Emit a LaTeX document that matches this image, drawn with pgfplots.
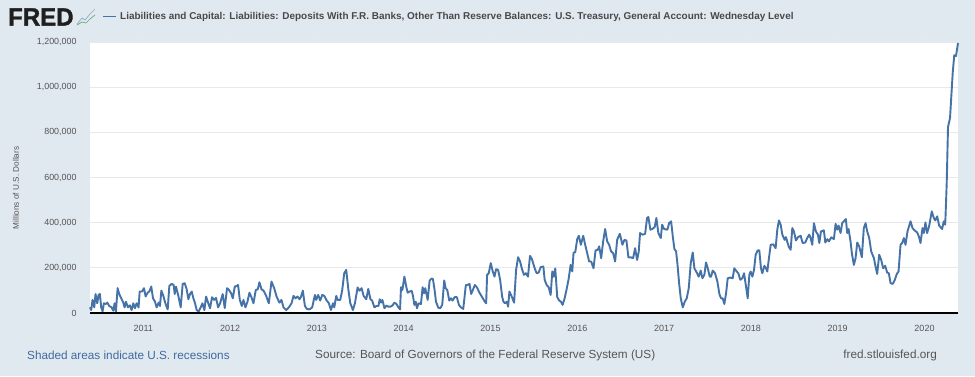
\documentclass[border=0pt]{standalone}
\usepackage{fontspec}
\setmainfont{Liberation Sans}
\usepackage{pgfplots}
\usepackage{pgfplotstable}
\pgfplotsset{compat=1.18}
\definecolor{fredbg}{HTML}{E1E9F0}
\definecolor{fredline}{HTML}{4572A7}
\definecolor{fredgrid}{HTML}{E8E8E8}
\definecolor{fredtxt}{HTML}{555555}
\definecolor{fredlink}{HTML}{3E6A9E}
\pgfplotstableread{
x y
2010.385 25
2010.400 13
2010.415 58
2010.435 25
2010.450 84
2010.469 43
2010.485 80
2010.500 84
2010.515 25
2010.531 7
2010.546 43
2010.569 40
2010.585 46
2010.608 31
2010.635 25
2010.654 10
2010.669 43
2010.685 6
2010.704 110
2010.723 84
2010.746 65
2010.769 46
2010.785 25
2010.800 50
2010.823 25
2010.846 34
2010.865 13
2010.885 43
2010.904 21
2010.923 43
2010.946 25
2010.958 95
2010.985 95
2011.008 110
2011.027 73
2011.050 90
2011.069 95
2011.092 117
2011.112 65
2011.135 50
2011.154 25
2011.177 46
2011.192 31
2011.208 99
2011.231 76
2011.254 43
2011.281 16
2011.300 120
2011.327 129
2011.350 124
2011.362 84
2011.377 117
2011.404 76
2011.431 25
2011.454 129
2011.477 132
2011.500 105
2011.519 61
2011.538 84
2011.558 95
2011.577 65
2011.596 43
2011.615 13
2011.638 7
2011.662 25
2011.681 43
2011.704 13
2011.723 73
2011.746 46
2011.769 21
2011.792 70
2011.815 58
2011.838 67
2011.862 25
2011.885 43
2011.915 84
2011.938 22
2011.965 110
2011.988 102
2012.012 87
2012.031 65
2012.054 117
2012.077 120
2012.092 124
2012.112 58
2012.135 31
2012.154 58
2012.177 25
2012.200 50
2012.223 90
2012.246 70
2012.269 43
2012.296 102
2012.319 105
2012.338 136
2012.362 105
2012.385 99
2012.415 76
2012.446 43
2012.477 139
2012.508 110
2012.538 70
2012.569 46
2012.592 58
2012.615 25
2012.646 13
2012.677 25
2012.708 43
2012.731 76
2012.754 65
2012.777 73
2012.800 61
2012.815 70
2012.838 99
2012.862 31
2012.885 18
2012.915 16
2012.946 25
2012.977 80
2012.992 58
2013.015 80
2013.038 55
2013.062 80
2013.085 76
2013.108 58
2013.138 43
2013.162 13
2013.185 43
2013.200 25
2013.223 76
2013.238 58
2013.269 58
2013.292 102
2013.315 176
2013.338 191
2013.362 105
2013.385 43
2013.415 13
2013.438 43
2013.469 113
2013.492 99
2013.515 110
2013.538 76
2013.569 61
2013.592 107
2013.617 61
2013.636 55
2013.663 25
2013.686 31
2013.709 31
2013.724 61
2013.740 46
2013.755 58
2013.778 21
2013.801 33
2013.824 28
2013.847 28
2013.870 33
2013.893 46
2013.916 40
2013.939 25
2013.958 16
2013.969 114
2013.985 102
2014.008 161
2014.031 114
2014.046 90
2014.069 95
2014.092 98
2014.107 76
2014.123 36
2014.138 50
2014.153 21
2014.172 43
2014.199 40
2014.218 114
2014.234 87
2014.249 110
2014.276 58
2014.299 144
2014.322 153
2014.337 150
2014.356 102
2014.372 50
2014.398 24
2014.421 21
2014.444 36
2014.467 144
2014.483 110
2014.502 102
2014.525 55
2014.544 65
2014.563 55
2014.586 70
2014.613 70
2014.636 36
2014.659 25
2014.686 18
2014.716 124
2014.735 124
2014.758 129
2014.777 84
2014.797 102
2014.820 124
2014.843 114
2014.873 90
2014.904 70
2014.935 50
2014.950 43
2014.961 169
2014.980 176
2015.003 221
2015.026 184
2015.046 161
2015.065 194
2015.088 191
2015.111 147
2015.134 73
2015.149 50
2015.168 43
2015.187 50
2015.203 28
2015.218 95
2015.241 76
2015.272 46
2015.295 191
2015.318 247
2015.341 228
2015.363 194
2015.386 169
2015.409 176
2015.432 161
2015.455 253
2015.478 238
2015.509 198
2015.532 176
2015.555 179
2015.578 203
2015.609 206
2015.624 147
2015.647 124
2015.670 114
2015.693 80
2015.712 184
2015.727 161
2015.746 197
2015.769 70
2015.792 55
2015.812 50
2015.831 36
2015.854 65
2015.877 105
2015.900 150
2015.923 213
2015.942 184
2015.957 268
2015.976 268
2015.999 327
2016.018 342
2016.041 302
2016.068 342
2016.091 302
2016.114 265
2016.137 228
2016.160 228
2016.187 198
2016.210 277
2016.237 280
2016.252 295
2016.275 243
2016.298 317
2016.321 372
2016.344 317
2016.367 302
2016.390 272
2016.413 265
2016.436 228
2016.459 324
2016.490 351
2016.520 302
2016.543 324
2016.566 321
2016.589 246
2016.612 247
2016.643 243
2016.666 287
2016.689 235
2016.708 272
2016.723 354
2016.750 347
2016.781 350
2016.804 421
2016.819 425
2016.842 369
2016.865 372
2016.892 381
2016.911 421
2016.934 354
2016.962 332
2016.977 391
2017.000 372
2017.038 369
2017.058 398
2017.081 406
2017.100 339
2017.119 283
2017.138 273
2017.153 221
2017.173 132
2017.192 65
2017.215 25
2017.238 50
2017.261 65
2017.284 110
2017.307 221
2017.330 268
2017.349 198
2017.376 179
2017.399 161
2017.422 188
2017.441 154
2017.464 169
2017.483 224
2017.503 198
2017.526 161
2017.541 161
2017.560 188
2017.587 176
2017.614 139
2017.637 84
2017.656 65
2017.675 65
2017.694 40
2017.714 87
2017.733 154
2017.760 157
2017.790 154
2017.809 198
2017.836 184
2017.855 176
2017.878 147
2017.901 154
2017.921 176
2017.944 117
2017.963 65
2017.982 169
2017.997 184
2018.017 161
2018.036 191
2018.055 258
2018.078 277
2018.097 277
2018.116 198
2018.132 176
2018.155 209
2018.174 198
2018.189 184
2018.208 243
2018.228 302
2018.258 304
2018.285 287
2018.304 369
2018.323 410
2018.343 391
2018.362 347
2018.389 324
2018.404 336
2018.423 310
2018.438 292
2018.458 280
2018.477 376
2018.496 361
2018.519 321
2018.542 336
2018.573 342
2018.596 310
2018.626 312
2018.649 332
2018.672 347
2018.688 332
2018.707 302
2018.726 398
2018.749 361
2018.772 347
2018.788 310
2018.807 361
2018.841 366
2018.857 312
2018.880 327
2018.899 317
2018.926 335
2018.956 327
2018.976 395
2018.995 369
2019.010 387
2019.033 354
2019.052 398
2019.094 416
2019.110 354
2019.125 372
2019.148 317
2019.163 265
2019.186 213
2019.206 243
2019.225 312
2019.248 295
2019.278 247
2019.301 376
2019.321 398
2019.340 361
2019.363 332
2019.386 273
2019.417 243
2019.436 206
2019.455 173
2019.478 258
2019.501 235
2019.524 198
2019.547 209
2019.570 179
2019.589 176
2019.609 132
2019.635 129
2019.658 147
2019.681 173
2019.701 184
2019.724 302
2019.743 310
2019.762 332
2019.781 302
2019.804 361
2019.839 406
2019.862 376
2019.885 366
2019.915 357
2019.935 339
2019.954 310
2019.977 376
2019.992 354
2020.011 401
2020.030 354
2020.053 384
2020.084 450
2020.107 421
2020.123 410
2020.146 428
2020.169 387
2020.203 372
2020.222 406
2020.238 391
2020.242 425
2020.256 576
2020.271 824
2020.294 863
2020.325 1063
2020.343 1142
2020.363 1138
2020.386 1196
}\fredtable
\newfontfamily\fredlogo[FakeBold=1.5]{Liberation Sans Bold}
\begin{document}
\begin{tikzpicture}[x=1pt,y=1pt]
\path[use as bounding box,fill=fredbg] (0,0) rectangle (975,376);
\begin{axis}[
  at={(90pt,63pt)},anchor=south west,
  scale only axis,width=868pt,height=271pt,
  xmin=2010.386,xmax=2020.386,ymin=0,ymax=1200,
  axis background/.style={fill=white},
  axis line style={draw=none},
  ymajorgrids,
  grid style={fredgrid,line width=0.9pt},
  xtick={2011,2012,2013,2014,2015,2016,2017,2018,2019,2020},
  xticklabels={2011,2012,2013,2014,2015,2016,2017,2018,2019,2020},
  ytick={0,200,400,600,800,1000,1200},
  yticklabels={{0},{200,000},{400,000},{600,000},{800,000},{1,000,000},{1,200,000}},
  yticklabel style={text=fredtxt,font=\fontsize{8.9}{11}\selectfont,xshift=-3pt},
  xticklabel style={text=fredtxt,font=\fontsize{9}{11}\selectfont,yshift=-1.5pt},
  tick align=outside,
  major tick length=7pt,
  xtick style={draw=fredgrid!70!fredbg,line width=0.8pt},
  ytick style={draw=none},
  clip=false,
]
\addplot[fredline,line width=1.9pt,line join=round,no marks] table[x=x,y=y] {\fredtable};
\draw[black,line width=2pt] (axis cs:2010.386,0) -- (axis cs:2020.386,0);
\end{axis}
% header
\node[anchor=west,inner sep=0pt,text=black!88] at (8,359) {\scalebox{0.96}[1]{\fontsize{25}{25}\selectfont\fredlogo FRED}};
\draw[fredline!60,line width=0.7pt] (77,352) -- (82,358) -- (85,356) -- (90,362) -- (95,367);
\draw[green!45!black!60,line width=0.7pt] (77,351) -- (82,354) -- (86,353) -- (90,357) -- (95,361);
\draw[fredline,line width=1.7pt] (103,359.5) -- (116,359.5);
\node[anchor=west,inner sep=0pt,text=fredtxt!85!black] at (120,359.5) {\fontsize{9.95}{11}\selectfont\bfseries Liabilities and Capital: Liabilities: Deposits With F.R. Banks, Other Than Reserve Balances: U.S. Treasury, General Account: Wednesday Level};
\node[rotate=90,inner sep=0pt,text=fredtxt] at (16,188) {\fontsize{8.2}{10}\selectfont Millions of U.S. Dollars};
% footer
\node[anchor=west,inner sep=0pt,text=fredlink] at (27,21) {\fontsize{11.75}{14}\selectfont Shaded areas indicate U.S. recessions};
\node[anchor=west,inner sep=0pt,text=fredtxt] at (315,21) {\fontsize{11.75}{14}\selectfont Source: Board of Governors of the Federal Reserve System (US)};
\node[anchor=east,inner sep=0pt,text=fredtxt] at (937,21) {\fontsize{11.75}{14}\selectfont fred.stlouisfed.org};
\end{tikzpicture}
\end{document}
